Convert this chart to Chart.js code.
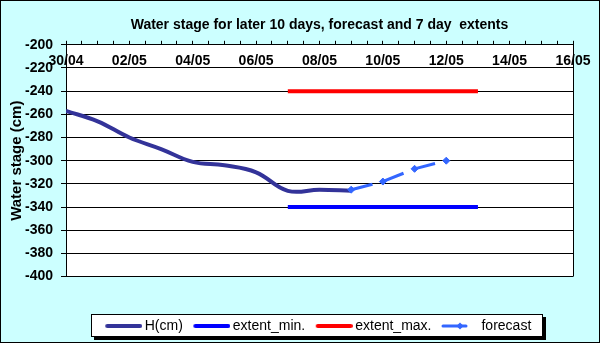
<!DOCTYPE html>
<html>
<head>
<meta charset="utf-8">
<title>Water stage</title>
<script src="https://cdn.jsdelivr.net/npm/chart.js@4.4.0/dist/chart.umd.min.js"></script>
<style>
	html, body { margin: 0; padding: 0; background: #ccffff; }
	canvas { display: block; }
</style>
</head>
<body>
<canvas id="stageChart" width="600" height="343"></canvas>
<script>
// day labels along the top axis, one per day
const days = [
	'30/04', '01/05', '02/05', '03/05', '04/05', '05/05', '06/05', '07/05', '08/05',
	'09/05', '10/05', '11/05', '12/05', '13/05', '14/05', '15/05', '16/05',
];

// observed water stage (cm)
const stageDays = ['30/04', '01/05', '02/05', '03/05', '04/05', '05/05', '06/05', '07/05', '08/05', '09/05'];
const stage = [-257, -266, -280, -290, -301, -304, -310, -326, -325, -326];

// 7 day extents
const extentDays = ['07/05', '13/05'];
const extentMin = [-340, -340];
const extentMax = [-240, -240];

// forecast
const forecastDays = ['09/05', '10/05', '11/05', '12/05'];
const forecast = [-325, -318, -307, -300];

const FONT = "'Liberation Sans', Arial, sans-serif";
Chart.defaults.font.family = FONT;
Chart.defaults.color = '#000';

const toPoints = (labels, values) =>
	labels.map((d, i) => ({ x: days.indexOf(d), y: values[i] }));

// small line samples used as legend symbols (drawn a bit wider than the legend box
// so the line sits close to its text)
function legendSample(color, width, from, to, marker) {
	const c = document.createElement('canvas');
	c.width = 39;
	c.height = 8;
	const g = c.getContext('2d');
	g.strokeStyle = color;
	g.lineWidth = width;
	g.lineCap = 'round';
	g.beginPath();
	g.moveTo(from, 4);
	g.lineTo(to, 4);
	g.stroke();
	if (marker) {
		g.fillStyle = color;
		g.beginPath();
		g.moveTo(marker, 0.5);
		g.lineTo(marker + 3.5, 4);
		g.lineTo(marker, 7.5);
		g.lineTo(marker - 3.5, 4);
		g.closePath();
		g.fill();
	}
	return c;
}

const samples = [
	legendSample('#333399', 4, 4, 37),
	legendSample('#0000ff', 4, 4, 37),
	legendSample('#ff0000', 4, 4, 37),
	legendSample('#3366ff', 3, 3, 26, 20),
];

// cyan backdrop, white plot area, framed legend with a shadow
const chartBackdrop = {
	id: 'chartBackdrop',
	beforeDraw(chart) {
		const { ctx, chartArea: a, width, height } = chart;
		ctx.save();
		ctx.fillStyle = '#ccffff';
		ctx.fillRect(0, 0, width, height);
		ctx.strokeStyle = '#000';
		ctx.lineWidth = 1;
		ctx.strokeRect(0.5, 0.5, width - 1, height - 1);
		ctx.fillStyle = '#fff';
		ctx.fillRect(a.left, a.top, a.right - a.left, a.bottom - a.top);

		const boxes = chart.legend.legendHitBoxes;
		if (boxes && boxes.length) {
			const first = boxes[0];
			const last = boxes[boxes.length - 1];
			const l = Math.round(first.left - 17);
			const r = Math.round(last.left + last.width + 12);
			const t = Math.round(first.top - 5);
			const b = Math.round(first.top + first.height + 4);
			ctx.fillStyle = '#000';
			ctx.fillRect(l + 3, t + 3, r - l, b - t);
			ctx.fillStyle = '#fff';
			ctx.fillRect(l, t, r - l, b - t);
			ctx.strokeRect(l + 0.5, t + 0.5, r - l - 1, b - t - 1);
		}
		ctx.restore();
	},
	beforeDatasetsDraw(chart) {
		const { ctx, chartArea: a } = chart;
		const x = Math.round(a.right - 0.5) + 0.5;
		ctx.save();
		ctx.strokeStyle = '#000';
		ctx.lineWidth = 1;
		ctx.beginPath();
		ctx.moveTo(x, a.top);
		ctx.lineTo(x, a.bottom);
		ctx.stroke();
		ctx.restore();
	},
};

const stageChart = new Chart(document.getElementById('stageChart'), {
	type: 'line',
	data: {
		datasets: [
			{
				label: 'H(cm)',
				data: toPoints(stageDays, stage),
				borderColor: '#333399',
				borderWidth: 4,
				tension: 0.4,
				pointRadius: 0,
				order: 1,
			},
			{
				label: 'extent_min.',
				data: toPoints(extentDays, extentMin),
				borderColor: '#0000ff',
				borderWidth: 4,
				pointRadius: 0,
				order: 1,
			},
			{
				label: 'extent_max.',
				data: toPoints(extentDays, extentMax),
				borderColor: '#ff0000',
				borderWidth: 4,
				pointRadius: 0,
				order: 1,
			},
			{
				label: 'forecast',
				data: toPoints(forecastDays, forecast),
				borderColor: '#3366ff',
				backgroundColor: '#3366ff',
				borderWidth: 3,
				borderDash: [22, 11],
				pointStyle: 'rectRot',
				pointRadius: 3.5,
				pointBorderWidth: 1,
				order: 0,
			},
		],
	},
	options: {
		responsive: false,
		animation: false,
		events: [],
		layout: { padding: { top: 4, left: 4, right: 27, bottom: 0 } },
		plugins: {
			title: {
				display: true,
				fullSize: false,
				text: 'Water stage for later 10 days, forecast and 7 day  extents',
				color: '#000',
				font: { size: 14, weight: 'bold' },
				padding: { top: 13, bottom: 7 },
			},
			legend: {
				position: 'bottom',
				fullSize: false,
				title: { display: true, text: '', padding: { top: 0, bottom: 15 } },
				labels: {
					usePointStyle: true,
					pointStyleWidth: 30,
					padding: 13,
					color: '#000',
					font: { size: 14 },
					generateLabels: (chart) =>
						chart.data.datasets.map((ds, i) => ({
							text: ds.label,
							pointStyle: samples[i],
							fontColor: '#000',
							datasetIndex: i,
							hidden: false,
							lineWidth: 0,
							strokeStyle: 'rgba(0,0,0,0)',
							fillStyle: 'rgba(0,0,0,0)',
						})),
				},
			},
			tooltip: { enabled: false },
		},
		scales: {
			x: {
				type: 'linear',
				position: 'top',
				min: 0,
				max: 16,
				ticks: {
					stepSize: 0.5,
					autoSkip: false,
					maxRotation: 0,
					minRotation: 0,
					mirror: true,
					padding: 8,
					color: '#000',
					font: { size: 14, weight: 'bold' },
					callback: (v) => (Number.isInteger(v) && v % 2 === 0 ? days[v] : ''),
				},
				grid: { drawOnChartArea: false, tickLength: 4, tickColor: '#000' },
				border: { color: '#000', width: 1 },
				afterFit: (scale) => {
					scale.height = 4;
				},
			},
			y: {
				min: -400,
				max: -200,
				ticks: {
					stepSize: 20,
					padding: 8,
					color: '#000',
					font: { size: 14, weight: 'bold' },
				},
				grid: { color: '#000', tickLength: 5, tickColor: '#000' },
				border: { color: '#000', width: 1 },
				title: {
					display: true,
					text: 'Water stage (cm)',
					color: '#000',
					font: { size: 15, weight: 'bold' },
					padding: { top: 4, bottom: 0 },
				},
				afterFit: (scale) => {
					scale.width = 62;
				},
			},
		},
	},
	plugins: [chartBackdrop],
});
</script>
</body>
</html>
